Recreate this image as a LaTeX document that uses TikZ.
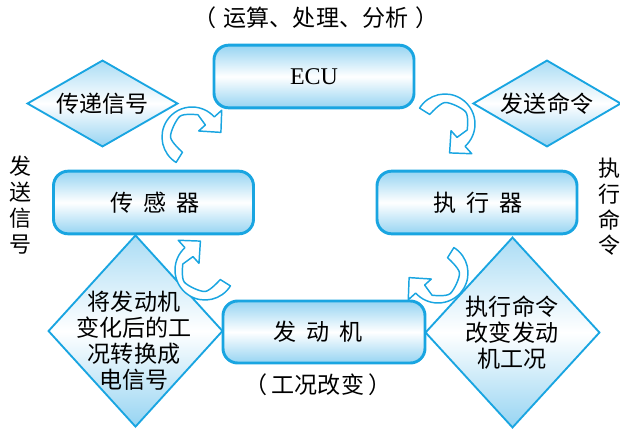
\documentclass[tikz,border=0pt]{standalone}
\usepackage{fontspec}
\setmainfont{Liberation Serif}
\newfontfamily\cjk{Noto Sans CJK SC}
\usetikzlibrary{shapes.geometric}
\definecolor{edgeblue}{RGB}{25,165,225}
\definecolor{fillblue}{RGB}{150,212,242}
\tikzset{
  box/.style={draw=edgeblue, line width=2.2pt, rounded corners=11pt,
    top color=fillblue, bottom color=fillblue, middle color=white,
    shape=rectangle, inner sep=0pt, minimum width=150pt, minimum height=47pt},
  dia/.style={draw=edgeblue, line width=1.4pt, shape=diamond, inner sep=0pt,
    top color=fillblue!80, bottom color=fillblue, middle color=white},
  lbl/.style={font=\cjk\fontsize{17.3}{19.5}\selectfont, align=center, inner sep=0pt},
  vlbl/.style={font=\cjk\fontsize{16.5}{19.3}\selectfont, align=center, inner sep=0pt},
  arrowline/.style={draw=edgeblue, line width=1.1pt, fill=white, line join=round},
  carrow/.pic={
    \path[arrowline] (238:30) arc[start angle=238, end angle=42, radius=30]
      -- (42:40) -- (28.9,4.6) -- (42:9) -- (42:18)
      -- plot[smooth] coordinates {(75:23) (120:24) (180:21.5) (238:18)} -- cycle;
  }
}
\begin{document}
\begin{tikzpicture}[x=0.75pt,y=0.75pt]
\useasboundingbox (0,0) rectangle (620,-428);
% title
\node[lbl] (title) at (316,-18) {（\hspace{0.3em}运算、处理、分析\hspace{0.3em}）};
% boxes
\node[box] (ecu) at (314,-76.5) {\fontsize{18}{20}\selectfont ECU};
\node[box] (sens) at (153.5,-202.5) {};
\node[lbl] at (155,-203) {传\hspace{0.45em}感\hspace{0.45em}器};
\node[box] (act) at (477,-202.5) {};
\node[lbl] at (478,-203) {执\hspace{0.45em}行\hspace{0.45em}器};
\node[box, minimum width=151.5pt, minimum height=46.5pt] (eng) at (324,-332) {};
\node[lbl] at (318,-332) {发\hspace{0.45em}动\hspace{0.45em}机};
\node[lbl] (cond) at (318,-385) {（\hspace{0.2em}工况改变\hspace{0.2em}）};
% diamonds
\node[dia, minimum width=113pt, minimum height=65pt] (d1) at (102.5,-103.5) {};
\node[lbl] at (d1) {传递信号};
\node[dia, minimum width=111pt, minimum height=65pt] (d2) at (547,-103.5) {};
\node[lbl] at (d2) {发送命令};
\node[dia, minimum width=131pt, minimum height=144pt] (d3) at (135.5,-331) {};
\node[lbl] at (134,-341) {将发动机\\变化后的工\\况转换成\\电信号};
\node[dia, minimum width=131pt, minimum height=143pt] (d4) at (512.5,-332.5) {};
\node[lbl] at (512,-333) {执行命令\\改变发动\\机工况};
% vertical labels
\node[vlbl] (send) at (20,-205) {发\\送\\信\\号};
\node[vlbl] (exec) at (609,-207) {执\\行\\命\\令};
% curved arrows
\pic at (192,-137) {carrow};
\pic[rotate=-90] at (445,-124) {carrow};
\pic[rotate=180] at (438,-273) {carrow};
\pic[rotate=90] at (205,-270) {carrow};
\end{tikzpicture}
\end{document}
